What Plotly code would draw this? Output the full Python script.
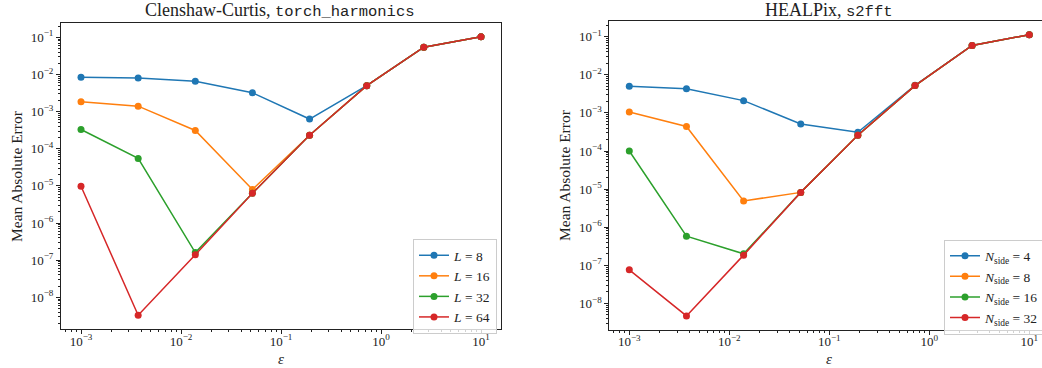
import plotly.graph_objects as go

# ---- data ----
eps = [1e-3, 3.73e-3, 1.39e-2, 5.18e-2, 1.93e-1, 7.20e-1, 2.68, 10.0]

cc_labels = ["<i>L</i> = 8", "<i>L</i> = 16", "<i>L</i> = 32", "<i>L</i> = 64"]
cc_L8 = [8.4e-3, 8.0e-3, 6.6e-3, 3.2e-3, 6.3e-4, 5.0e-3, 5.4e-2, 1.03e-1]
cc_L16 = [1.85e-3, 1.4e-3, 3.1e-4, 8.0e-6, 2.3e-4, 5.0e-3, 5.4e-2, 1.03e-1]
cc_L32 = [3.3e-4, 5.5e-5, 1.6e-7, 6.3e-6, 2.3e-4, 5.0e-3, 5.4e-2, 1.03e-1]
cc_L64 = [9.8e-6, 3.3e-9, 1.4e-7, 6.3e-6, 2.3e-4, 5.0e-3, 5.4e-2, 1.03e-1]

hp_labels = ["<i>N</i><sub>side</sub> = 4", "<i>N</i><sub>side</sub> = 8",
             "<i>N</i><sub>side</sub> = 16", "<i>N</i><sub>side</sub> = 32"]
hp_N4 = [5.0e-3, 4.3e-3, 2.1e-3, 5.1e-4, 3.1e-4, 5.3e-3, 5.9e-2, 1.13e-1]
hp_N8 = [1.05e-3, 4.4e-4, 4.9e-6, 8.2e-6, 2.6e-4, 5.2e-3, 5.9e-2, 1.13e-1]
hp_N16 = [1.0e-4, 5.8e-7, 2.0e-7, 8.2e-6, 2.6e-4, 5.2e-3, 5.9e-2, 1.13e-1]
hp_N32 = [7.6e-8, 4.7e-9, 1.85e-7, 8.2e-6, 2.6e-4, 5.2e-3, 5.9e-2, 1.13e-1]

x_exps = [-3, -2, -1, 0, 1]
y_exps = [-8, -7, -6, -5, -4, -3, -2, -1]

colors = ["#1f77b4", "#ff7f0e", "#2ca02c", "#d62728"]

W, H = 1042, 368
SERIF = "Liberation Serif, DejaVu Serif, serif"
MONO = "Liberation Mono, DejaVu Sans Mono, monospace"
INK = "#222"


def pw(e):
    return "10<sup>" + str(e).replace("-", "\u2212") + "</sup>"


def minor_vals(exps):
    lo, hi = min(exps) - 1, max(exps) + 1
    return [m * 10.0 ** e for e in range(lo, hi + 1) for m in range(2, 10)]


fig = go.Figure()

for lab, ys, c in zip(cc_labels, [cc_L8, cc_L16, cc_L32, cc_L64], colors):
    fig.add_trace(go.Scatter(x=eps, y=ys, name=lab, mode="lines+markers",
                             line=dict(color=c, width=1.5),
                             marker=dict(color=c, size=7),
                             xaxis="x", yaxis="y", legend="legend"))

for lab, ys, c in zip(hp_labels, [hp_N4, hp_N8, hp_N16, hp_N32], colors):
    fig.add_trace(go.Scatter(x=eps, y=ys, name=lab, mode="lines+markers",
                             line=dict(color=c, width=1.5),
                             marker=dict(color=c, size=7),
                             xaxis="x2", yaxis="y2", legend="legend2"))


def px(x):
    return x / W


def py(y):
    return 1 - y / H


major = dict(type="log", showgrid=False, zeroline=False, showline=True,
             linecolor=INK, linewidth=1, ticks="outside", ticklen=4,
             tickwidth=1, tickcolor=INK, automargin=False,
             tickfont=dict(family=SERIF, size=13, color=INK))
minor = dict(type="log", showgrid=False, zeroline=False, showline=False,
             ticks="outside", ticklen=2, tickwidth=0.8, tickcolor=INK,
             showticklabels=False, automargin=False)

xmaj = dict(tickmode="array", tickvals=[10.0 ** e for e in x_exps],
            ticktext=[pw(e) for e in x_exps], ticklabelstandoff=-4, **major)
ymaj = dict(tickmode="array", tickvals=[10.0 ** e for e in y_exps],
            ticktext=[pw(e) for e in y_exps], **major)
xmin = dict(tickmode="array", tickvals=minor_vals(x_exps), **minor)
ymin = dict(tickmode="array", tickvals=minor_vals(y_exps), **minor)

rx1 = [-3.2, 1.2]
ry1 = [-8.853, -0.607]
rx2 = [-3.2, 1.127]
ry2 = [-8.69, -0.58]

fig.update_layout(
    width=W, height=H, margin=dict(l=0, r=0, t=0, b=0, autoexpand=False),
    paper_bgcolor="white", plot_bgcolor="white",
    font=dict(family=SERIF, color=INK),
    xaxis=dict(domain=[px(61), px(501)], range=rx1, anchor="y", mirror=True, **xmaj),
    yaxis=dict(domain=[py(329), py(22.7)], range=ry1, anchor="x", mirror=True, **ymaj),
    xaxis2=dict(domain=[px(609.3), 1.0], range=rx2, anchor="y2", mirror=True, **xmaj),
    yaxis2=dict(domain=[py(329.7), py(20.7)], range=ry2, anchor="x2", mirror=False, **ymaj),
    xaxis3=dict(overlaying="x", anchor="y", range=rx1, side="bottom", **xmin),
    yaxis3=dict(overlaying="y", anchor="x", range=ry1, side="left", **ymin),
    xaxis4=dict(overlaying="x2", anchor="y2", range=rx2, side="bottom", **xmin),
    yaxis4=dict(overlaying="y2", anchor="x2", range=ry2, side="left", **ymin),
    legend=dict(x=px(413), y=py(286.5), xanchor="left", yanchor="middle",
                bgcolor="rgba(255,255,255,0.8)", bordercolor="#cccccc",
                borderwidth=1, font=dict(family=SERIF, size=13.5, color=INK),
                tracegroupgap=0, itemwidth=30),
    legend2=dict(x=px(944), y=py(287), xanchor="left", yanchor="middle",
                 bgcolor="rgba(255,255,255,0.8)", bordercolor="#cccccc",
                 borderwidth=1, font=dict(family=SERIF, size=13.5, color=INK),
                 tracegroupgap=0, itemwidth=30),
    showlegend=True,
)

# invisible traces so the minor-tick axes are drawn
for xa, ya in (("x3", "y3"), ("x4", "y4")):
    fig.add_trace(go.Scatter(x=[None], y=[None], xaxis=xa, yaxis=ya,
                             showlegend=False, hoverinfo="skip"))

annots = [
    dict(x=px(280), y=py(11),
         text="Clenshaw-Curtis, <span style='font-family:" + MONO + ";font-size:15.5px'>torch_harmonics</span>",
         font=dict(size=18)),
    dict(x=px(829), y=py(11),
         text="HEALPix, <span style='font-family:" + MONO + ";font-size:15.5px'>s2fft</span>",
         font=dict(size=18)),
    dict(x=px(281), y=py(359), text="<i>ε</i>", font=dict(size=15)),
    dict(x=px(829), y=py(359), text="<i>ε</i>", font=dict(size=15)),
    dict(x=px(16), y=py(176), text="Mean Absolute Error", textangle=-90, font=dict(size=15.5)),
    dict(x=px(564), y=py(175), text="Mean Absolute Error", textangle=-90, font=dict(size=15.5)),
]
for a in annots:
    a.update(xref="paper", yref="paper", showarrow=False, xanchor="center", yanchor="middle")
    a["font"].update(family=SERIF, color=INK)
    fig.add_annotation(**a)

fig.write_html(
    "out.html",
    config={"displayModeBar": False},
    post_script="document.body.style.margin='0px';document.body.style.padding='0px';"
                "document.body.style.overflow='hidden';",
)
